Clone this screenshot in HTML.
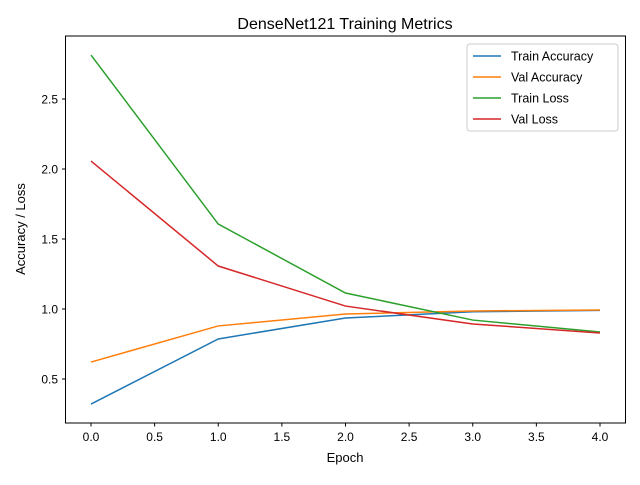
<!DOCTYPE html>
<html><head><meta charset="utf-8"><style>
body{margin:0;background:#fff;}
svg{font-family:"Liberation Sans","DejaVu Sans",sans-serif;}
</style></head><body>
<svg id="chart" width="640" height="480" viewBox="0 0 640 480">
<rect width="640" height="480" fill="#fff"/>
<text x="345" y="29" font-size="16" text-anchor="middle">DenseNet121 Training Metrics</text>
<g id="plot"></g>
<rect x="65.5" y="36" width="560" height="387" fill="none" stroke="#000" stroke-width="1"/>
<text x="345" y="462" font-size="13" text-anchor="middle">Epoch</text>
<text transform="translate(25,229) rotate(-90)" font-size="13" text-anchor="middle">Accuracy / Loss</text>
<g>
<rect x="467" y="44" width="151" height="87" rx="3" fill="#fff" fill-opacity="0.8" stroke="#ccc"/>
<g id="legend-items"></g>
</g>
</svg>
<script>
const epochs=[0,1,2,3,4];
const trainAcc=[0.321,0.786,0.936,0.98,0.99];
const valAcc=[0.621,0.879,0.964,0.986,0.993];
const trainLoss=[2.814,1.607,1.114,0.921,0.836];
const valLoss=[2.057,1.307,1.021,0.893,0.829];
const xTicks=[0,0.5,1,1.5,2,2.5,3,3.5,4];
const yTicks=[0.5,1.0,1.5,2.0,2.5];
const seriesNames=["Train Accuracy","Val Accuracy","Train Loss","Val Loss"];
const NS="http://www.w3.org/2000/svg";
const xs=v=>91+v*127.25;
const ys=v=>379-(v-0.5)*140;
const plot=document.getElementById('plot');
function mk(t,a){const e=document.createElementNS(NS,t);for(const k in a)e.setAttribute(k,a[k]);return e;}
xTicks.forEach(t=>{
 const g=mk('g',{});
 
 
 g.appendChild(mk('line',{x1:xs(t),x2:xs(t),y1:423,y2:426.5,stroke:'#000'}));
 const tx=mk('text',{x:xs(t),y:441,'font-size':12,'text-anchor':'middle'});tx.textContent=t.toFixed(1);g.appendChild(tx);
 plot.appendChild(g);
});
yTicks.forEach(t=>{
 const g=mk('g',{});
 
 
 g.appendChild(mk('line',{x1:62,x2:65.5,y1:ys(t),y2:ys(t),stroke:'#000'}));
 const tx=mk('text',{x:58,y:ys(t)+4.5,'font-size':12,'text-anchor':'end'});tx.textContent=t.toFixed(1);g.appendChild(tx);
 plot.appendChild(g);
});
const data=[trainAcc,valAcc,trainLoss,valLoss];
const colors=['#1f77b4','#ff7f0e','#2ca02c','#d62728'];
const names=['line-train-accuracy','line-val-accuracy','line-train-loss','line-val-loss'];
data.forEach((d,i)=>{
 const p=mk('polyline',{points:d.map((v,j)=>xs(epochs[j])+','+ys(v)).join(' '),fill:'none',stroke:colors[i],'stroke-width':1.5});
 
 
 plot.appendChild(p);
});
const li=document.getElementById('legend-items');
seriesNames.forEach((n,i)=>{
 const y=56+i*21;
 const g=mk('g',{});
 
 
 g.appendChild(mk('line',{x1:473,x2:501,y1:y,y2:y,stroke:colors[i],'stroke-width':1.5}));
 const t=mk('text',{x:511,y:y+4.5,'font-size':12.5});t.textContent=n;g.appendChild(t);
 li.appendChild(g);
});
</script>
</body></html>
